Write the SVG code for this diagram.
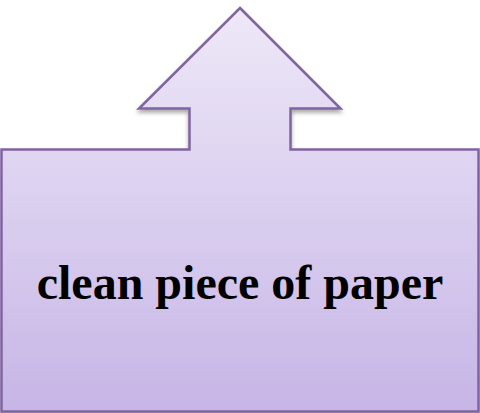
<svg xmlns="http://www.w3.org/2000/svg" width="480" height="413" viewBox="0 0 480 413">
<defs>
<linearGradient id="g" x1="0" y1="0" x2="0" y2="1" gradientUnits="userSpaceOnUse" gradientTransform="scale(1,413)">
<stop offset="0" stop-color="#efe9f8"/>
<stop offset="1" stop-color="#c6b5e6"/>
</linearGradient>
<filter id="sh" x="-10%" y="-10%" width="120%" height="130%">
<feGaussianBlur in="SourceAlpha" stdDeviation="2"/>
<feOffset dx="0" dy="3" result="b"/>
<feComponentTransfer><feFuncA type="linear" slope="0.35"/></feComponentTransfer>
<feMerge><feMergeNode/><feMergeNode in="SourceGraphic"/></feMerge>
</filter>
<style>
.shape{fill:url(#g);stroke:#8064a2;stroke-width:2.5;stroke-linejoin:miter}
.label{font-family:"Liberation Serif","Times New Roman",serif;font-weight:bold;font-size:48px;fill:#000}
</style>
</defs>
<g id="callout">
<path class="shape" filter="url(#sh)" d="M240,8 L340.5,108.5 L290.5,108.5 L290.5,149.5 L478.5,149.5 L478.5,411.5 L1.5,411.5 L1.5,149.5 L189.5,149.5 L189.5,108.5 L139,108.5 Z"/>
<text class="label" x="240" y="299" text-anchor="middle">clean piece of paper</text>
</g>
<g id="connectors"/>
</svg>
